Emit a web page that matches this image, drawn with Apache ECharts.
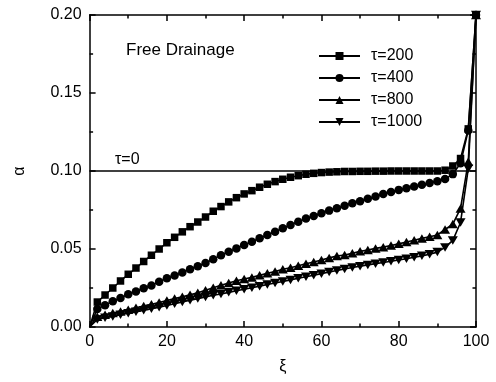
<!DOCTYPE html>
<html>
<head>
<meta charset="utf-8">
<script src="https://cdn.jsdelivr.net/npm/echarts@6/dist/echarts.min.js"></script>
<style>
html,body{margin:0;padding:0;background:#fff;}
#c{width:496px;height:382px;}
</style>
</head>
<body>
<div id="c"></div>
<script>
var xi = [0,2,4,6,8,10,12,14,16,18,20,22,24,26,28,30,32,34,36,38,40,42,44,46,48,50,52,54,56,58,60,62,64,66,68,70,72,74,76,78,80,82,84,86,88,90,92,94,96,98,100];
var tau200 = [0,0.016,0.0205,0.025,0.0295,0.0338,0.0378,0.042,0.046,0.050,0.054,0.0575,0.061,0.0643,0.0673,0.0705,0.0742,0.0772,0.0802,0.0829,0.0853,0.0874,0.0896,0.0915,0.0932,0.0947,0.096,0.097,0.0979,0.0985,0.099,0.0993,0.0995,0.0997,0.0997,0.0998,0.0998,0.0999,0.0999,0.1,0.1,0.1,0.1,0.1,0.1,0.1,0.1005,0.1032,0.108,0.127,0.2];
var tau400 = [0,0.0115,0.014,0.0165,0.0186,0.021,0.0228,0.0248,0.0266,0.029,0.0313,0.033,0.035,0.037,0.039,0.041,0.0435,0.046,0.0483,0.0504,0.0526,0.0547,0.0569,0.059,0.0611,0.0633,0.0654,0.0675,0.0695,0.0712,0.0729,0.0746,0.0761,0.0778,0.0793,0.0806,0.0822,0.0836,0.0852,0.0866,0.0879,0.089,0.0901,0.0912,0.0923,0.0934,0.0948,0.098,0.105,0.126,0.2];
var tau800 = [0,0.0065,0.0078,0.009,0.0100,0.0111,0.0123,0.0135,0.0146,0.0157,0.0170,0.0182,0.0194,0.0207,0.022,0.0235,0.0252,0.0267,0.0282,0.0297,0.0308,0.0318,0.0331,0.0344,0.0355,0.037,0.038,0.0393,0.0405,0.0417,0.043,0.0443,0.0455,0.0462,0.0472,0.0485,0.0494,0.0504,0.0512,0.0522,0.0533,0.0545,0.0556,0.0568,0.0578,0.059,0.0625,0.066,0.076,0.106,0.2];
var tau1000 = [0,0.0048,0.006,0.0068,0.0078,0.0088,0.0097,0.0107,0.0117,0.0127,0.0138,0.0149,0.016,0.0171,0.0182,0.0193,0.0203,0.0212,0.0222,0.0232,0.0242,0.0252,0.0262,0.0272,0.0282,0.0292,0.0302,0.0312,0.0322,0.0332,0.0342,0.0352,0.0362,0.0372,0.0381,0.039,0.0398,0.0406,0.0414,0.0422,0.043,0.0438,0.0447,0.0456,0.0466,0.048,0.051,0.0555,0.067,0.1015,0.2];
var tau0X = [0,100];
var tau0Y = [0.1,0.1];
var legendNames = ['τ=200','τ=400','τ=800','τ=1000'];

function pairs(xs, ys){
  return xs.map(function(x,i){
    var item = {value:[x, ys[i]]};
    if (x === 0) item.symbol = 'none';
    return item;
  });
}
var FONT = 'Liberation Sans, Arial, sans-serif';
var TICK = '#000';
var chart = echarts.init(document.getElementById('c'), null, {renderer:'canvas'});
function axisBase(extra){
  var o = {
    axisLine:{show:true,onZero:false,lineStyle:{color:'#000',width:1.5}},
    axisTick:{show:true,inside:true,length:6,lineStyle:{color:TICK,width:1.5}},
    minorTick:{show:true,splitNumber:2,length:3.5,lineStyle:{color:TICK,width:1.5}},
    splitLine:{show:false},
    minorSplitLine:{show:false}
  };
  for (var k in extra) o[k] = extra[k];
  return o;
}
function mk(name, data, symbol, size, rotate){
  return {
    name:name, type:'line', data:data,
    symbol:symbol, symbolSize:size, symbolRotate: rotate||0,
    showAllSymbol:true,
    lineStyle:{color:'#000',width:1.6},
    itemStyle:{color:'#000'},
    animation:false, z:3
  };
}
chart.setOption({
  animation:false,
  backgroundColor:'#fff',
  grid:{left:89.6,right:20,top:15,bottom:55,containLabel:false},
  legend:{
    data:legendNames, orient:'vertical', left:318, top:48,
    itemWidth:41, itemHeight:10, itemGap:6, padding:0,
    textStyle:{fontFamily:FONT,fontSize:16,color:'#000',lineHeight:16,padding:[0,0,0,6]}
  },
  graphic:[
    {type:'text',left:126,top:42,style:{text:'Free Drainage',font:'17px '+FONT,fill:'#000'}},
    {type:'text',left:115,top:152,style:{text:'τ=0',font:'16px '+FONT,fill:'#000'}}
  ],
  xAxis:[
    axisBase({type:'value',min:0,max:100,interval:20,position:'bottom',
      name:'ξ',nameLocation:'middle',nameGap:32,nameTextStyle:{fontFamily:FONT,fontSize:16,color:'#000'},
      axisLabel:{fontFamily:FONT,fontSize:16,color:'#000',margin:7}}),
    axisBase({type:'value',min:0,max:100,interval:20,position:'top',axisLabel:{show:false}})
  ],
  yAxis:[
    axisBase({type:'value',min:0,max:0.2,interval:0.05,position:'left',
      name:'α',nameLocation:'middle',nameGap:62,nameTextStyle:{fontFamily:FONT,fontSize:16,color:'#000'},
      axisLabel:{fontFamily:FONT,fontSize:16,color:'#000',margin:8,formatter:function(v){return v.toFixed(2);}}}),
    axisBase({type:'value',min:0,max:0.2,interval:0.05,position:'right',axisLabel:{show:false}})
  ],
  series:[
    {name:'τ=0',type:'line',data:pairs(tau0X,tau0Y),symbol:'none',lineStyle:{color:'#000',width:1.5},itemStyle:{color:'#000'},z:2},
    mk('τ=200', pairs(xi,tau200), 'rect', 7.5),
    mk('τ=400', pairs(xi,tau400), 'circle', 8.5),
    mk('τ=800', pairs(xi,tau800), 'triangle', [10,8.5]),
    mk('τ=1000', pairs(xi,tau1000), 'triangle', [10,8.5], 180)
  ]
});
</script>
</body>
</html>
